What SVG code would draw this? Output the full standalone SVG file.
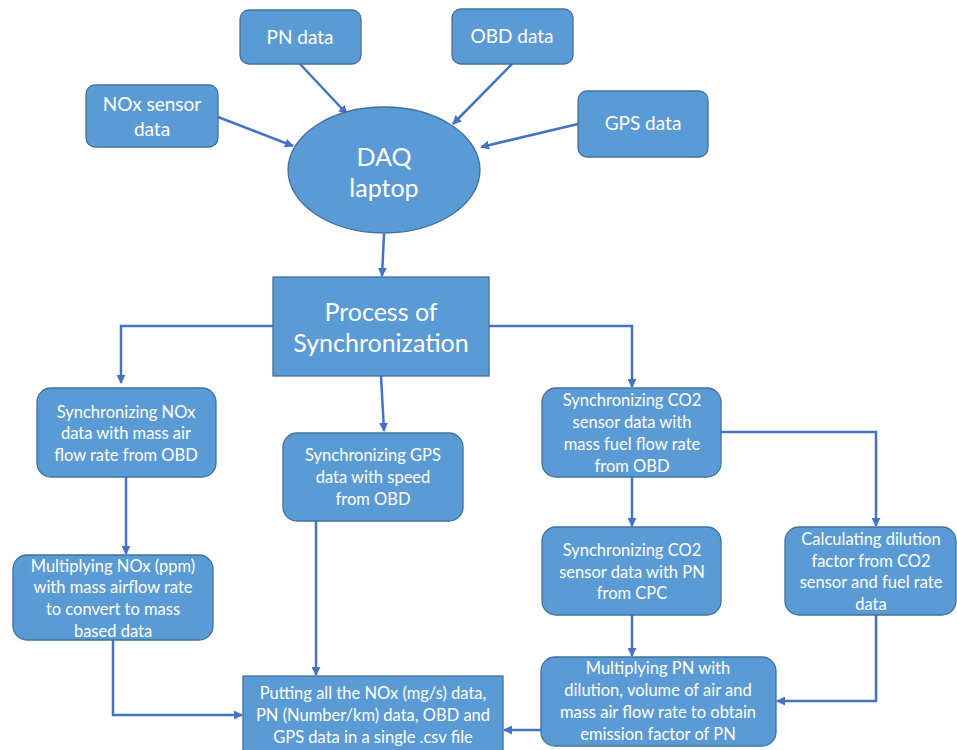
<svg xmlns="http://www.w3.org/2000/svg" width="957" height="750" viewBox="0 0 957 750">
<defs>
<marker id="ah" viewBox="0 0 10 10" refX="9" refY="5" markerWidth="9" markerHeight="9" markerUnits="userSpaceOnUse" orient="auto">
<path d="M0,0 L10,5 L0,10 z" fill="#4472C4"/>
</marker>
<style>
.n{fill:#5B9BD5;stroke:#41719C;stroke-width:1.3}
.t{font-family:Lato,"Open Sans",sans-serif;fill:#fff;text-anchor:middle}
.s{font-size:16.5px}
.m{font-size:19px}
.l{font-size:25px}
.c{fill:none;stroke:#4472C4;stroke-width:2.5;marker-end:url(#ah)}
</style>
</defs>
<rect width="957" height="750" fill="#fff"/>
<g id="connectors">
<path class="c" d="M300,64 L347,114"/>
<path class="c" d="M512,64 L453,124"/>
<path class="c" d="M218,117 L293,146"/>
<path class="c" d="M578,124 L481,147"/>
<path class="c" d="M384,234 L382,276"/>
<path class="c" d="M273,326 L121,326 L121,383"/>
<path class="c" d="M381,376 L384,431"/>
<path class="c" d="M489,326 L632,326 L632,387"/>
<path class="c" d="M721,432 L876,432 L876,526"/>
<path class="c" d="M632,477 L632,526"/>
<path class="c" d="M126,477 L126,554"/>
<path class="c" d="M632,615 L632,656"/>
<path class="c" d="M876,615 L876,701 L777,701"/>
<path class="c" d="M541,730 L504,730"/>
<path class="c" d="M113,640 L113,715 L242,715"/>
<path class="c" d="M316,521 L316,675"/>
</g>
<g id="pn"><rect class="n" x="240" y="10" width="121" height="54" rx="9"/><text class="t m" x="300" y="44">PN data</text></g>
<g id="obd"><rect class="n" x="452" y="9" width="121" height="55" rx="9"/><text class="t m" x="512" y="43">OBD data</text></g>
<g id="nox"><rect class="n" x="86" y="85" width="132" height="62" rx="9"/><text class="t m" x="152" y="111">NOx sensor</text><text class="t m" x="152" y="136">data</text></g>
<g id="gps"><rect class="n" x="578" y="91" width="130" height="66" rx="9"/><text class="t m" x="643" y="130">GPS data</text></g>
<g id="daq"><ellipse class="n" cx="384" cy="170" rx="96" ry="63"/><text class="t l" x="384" y="166">DAQ</text><text class="t l" x="384" y="197">laptop</text></g>
<g id="process"><rect class="n" x="273" y="277" width="216" height="99"/><text class="t l" x="381" y="321">Process of</text><text class="t l" x="381" y="352">Synchronization</text></g>
<g id="noxsync"><rect class="n" x="37" y="388" width="179" height="89" rx="14"/><text class="t s" x="126" y="418">Synchronizing NOx</text><text class="t s" x="126" y="439">data with mass air</text><text class="t s" x="126" y="461">flow rate from OBD</text></g>
<g id="gpssync"><rect class="n" x="283" y="433" width="180" height="88" rx="14"/><text class="t s" x="373" y="461">Synchronizing GPS</text><text class="t s" x="373" y="483">data with speed</text><text class="t s" x="373" y="505">from OBD</text></g>
<g id="co2sync"><rect class="n" x="542" y="388" width="179" height="89" rx="14"/><text class="t s" x="632" y="406">Synchronizing CO2</text><text class="t s" x="632" y="428">sensor data with</text><text class="t s" x="632" y="450">mass fuel flow rate</text><text class="t s" x="632" y="472">from OBD</text></g>
<g id="co2pn"><rect class="n" x="542" y="527" width="179" height="88" rx="14"/><text class="t s" x="632" y="556">Synchronizing CO2</text><text class="t s" x="632" y="578">sensor data with PN</text><text class="t s" x="632" y="599">from CPC</text></g>
<g id="calc"><rect class="n" x="785" y="527" width="171" height="88" rx="14"/><text class="t s" x="871" y="545">Calculating dilution</text><text class="t s" x="871" y="567">factor from CO2</text><text class="t s" x="871" y="588">sensor and fuel rate</text><text class="t s" x="871" y="610">data</text></g>
<g id="multnox"><rect class="n" x="13" y="555" width="200" height="85" rx="14"/><text class="t s" x="113" y="572">Multiplying NOx (ppm)</text><text class="t s" x="113" y="593">with mass airflow rate</text><text class="t s" x="113" y="615">to convert to mass</text><text class="t s" x="113" y="637">based data</text></g>
<g id="multpn"><rect class="n" x="541" y="657" width="235" height="89" rx="14"/><text class="t s" x="658" y="674">Multiplying PN with</text><text class="t s" x="658" y="696">dilution, volume of air and</text><text class="t s" x="658" y="718">mass air flow rate to obtain</text><text class="t s" x="658" y="740">emission factor of PN</text></g>
<g id="putting"><rect class="n" x="243" y="676" width="260" height="80"/><text class="t s" x="373" y="699">Putting all the NOx (mg/s) data,</text><text class="t s" x="373" y="721">PN (Number/km) data, OBD and</text><text class="t s" x="373" y="743">GPS data in a single .csv file</text></g>
</svg>
